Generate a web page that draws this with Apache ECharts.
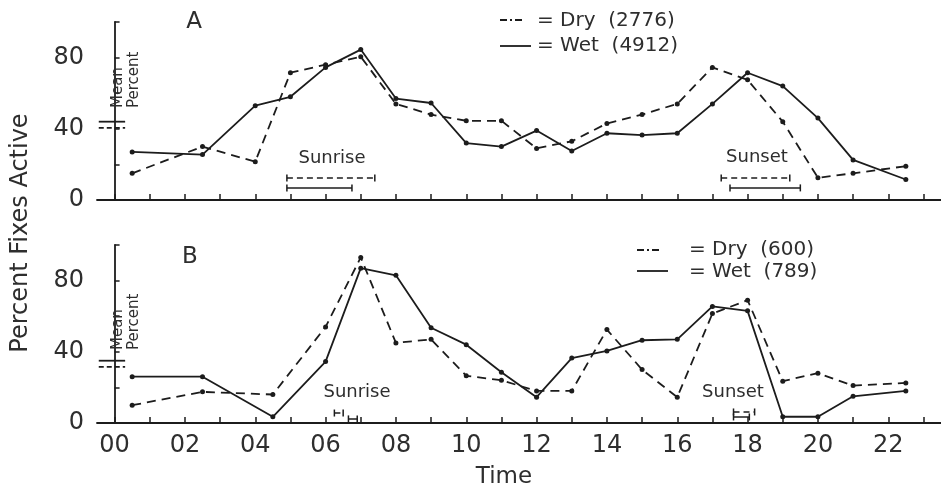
<!DOCTYPE html>
<html><head><meta charset="utf-8">
<script src="https://cdn.jsdelivr.net/npm/echarts@6/dist/echarts.min.js"></script>
<style>html,body{margin:0;padding:0;background:#fff}#c{width:941px;height:489px}</style>
</head><body><div id="c"></div>
<script>
// ---- data ----
const hoursA = [0.5, 2.5, 4, 5, 6, 7, 8, 9, 10, 11, 12, 13, 14, 15, 16, 17, 18, 19, 20, 21, 22.5];
const dryA   = [15, 30, 21.5, 71.5, 76, 80.5, 54, 48, 44.5, 44.5, 29, 33, 43, 48, 54, 74.5, 67.5, 44, 12.5, 15, 19];
const wetA   = [27, 25.5, 53, 58, 74.5, 84.5, 57, 54.5, 32, 30, 39, 27.5, 37.5, 36.5, 37.5, 54, 71.5, 64, 46, 22.5, 11.5];
const hoursB = [0.5, 2.5, 4.5, 6, 7, 8, 9, 10, 11, 12, 13, 14, 15, 16, 17, 18, 19, 20, 21, 22.5];
const dryB   = [10, 17.5, 16, 54, 93, 45, 47, 26.5, 24, 18, 18, 52.5, 30, 14.5, 61.5, 69, 23.5, 28, 21, 22.5];
const wetB   = [26, 26, 3.5, 34.5, 87, 83, 53.5, 44, 28.5, 14.5, 36.5, 40.5, 46.5, 47, 65.5, 63, 3.5, 3.5, 15, 18];
const meanA  = {dry: 40.5, wet: 44};
const meanB  = {dry: 31.5, wet: 35};
const sunriseA = {dry: [4.9, 7.4], wet: [4.9, 6.75]};
const sunsetA  = {dry: [17.25, 19.2], wet: [17.5, 19.5]};
const sunriseB = {dry: [6.25, 6.5], wet: [6.65, 6.9]};
const sunsetB  = {dry: [17.6, 18.2], wet: [17.6, 18.05]};
const countsA = {dry: 2776, wet: 4912};
const countsB = {dry: 600, wet: 789};
const hourTicks = Array.from({length: 24}, (_, i) => i);
const hourLabels = [0, 2, 4, 6, 8, 10, 12, 14, 16, 18, 20, 22];
const yTickLabels = [0, 40, 80];

// ---- styles ----
const INK = '#1c1c1c', TXT = '#2e2e2e', FONT = 'DejaVu Sans';
const DASH = [9, 6];

function dataLine(g, xs, ys, dashed) {
  return {type: 'line', xAxisIndex: g, yAxisIndex: g, data: xs.map((x, i) => [x, ys[i]]),
    symbol: 'circle', symbolSize: 5, showAllSymbol: true, z: 3,
    lineStyle: {color: INK, width: 1.8, type: dashed ? DASH : 'solid'}, itemStyle: {color: INK}};
}
function meanLine(g, v, dashed) {
  return {type: 'line', xAxisIndex: g, yAxisIndex: g, data: [[-0.45, v], [0.3, v]], symbol: 'none',
    lineStyle: {color: INK, width: 1.8, type: dashed ? [5, 3] : 'solid'}};
}
function sunBar(g, iv, level, dashed) {
  return {type: 'line', xAxisIndex: g, yAxisIndex: g, data: [[iv[0], level], [iv[1], level]],
    symbol: 'rect', symbolSize: [1.5, 7], itemStyle: {color: INK},
    lineStyle: {color: INK, width: 1.5, type: dashed ? [6, 4] : 'solid'}};
}
function xAx(g, labels) {
  return {type: 'value', gridIndex: g, min: -0.5, max: 23.5,
    axisLine: {lineStyle: {color: INK, width: 1.8}},
    axisTick: {show: true, inside: true, length: 6, customValues: hourTicks, lineStyle: {color: INK, width: 1.5}},
    axisLabel: labels ? {show: true, customValues: hourLabels, margin: 11, color: TXT, fontFamily: FONT, fontSize: 24,
      formatter: v => String(v).padStart(2, '0')} : {show: false},
    splitLine: {show: false}};
}
function yAx(g) {
  return {type: 'value', gridIndex: g, min: 0, max: 100, interval: 20,
    axisLine: {show: true, lineStyle: {color: INK, width: 1.8}},
    axisTick: {show: true, inside: true, length: 5, lineStyle: {color: INK, width: 1.5}},
    axisLabel: {color: TXT, fontFamily: FONT, fontSize: 24, margin: 13,
      formatter: v => yTickLabels.includes(v) ? String(v) : ''},
    splitLine: {show: false}};
}
function txt(x, y, s, size, opts) {
  return Object.assign({type: 'text', x, y, z: 10,
    style: Object.assign({text: s, font: size + 'px "' + FONT + '"', fill: TXT, textAlign: 'center', textVerticalAlign: 'middle'}, (opts && opts.style) || {})},
    (opts && opts.el) || {});
}
function legendRow(x, y, dashed) {
  if (dashed) {
    return {type: 'line', shape: {x1: x, y1: y, x2: x + 24, y2: y}, style: {stroke: INK, lineWidth: 1.8, lineDash: [7, 3, 2, 3]}};
  }
  return {type: 'line', shape: {x1: x, y1: y, x2: x + 31, y2: y}, style: {stroke: INK, lineWidth: 1.8}};
}

const chart = echarts.init(document.getElementById('c'), null, {renderer: 'canvas'});
const graphic = [
  txt(21, 233, 'Percent Fixes Active', 24, {el: {rotation: Math.PI / 2}}),
  txt(504, 477, 'Time', 23),
  txt(194, 22, 'A', 23),
  txt(190, 257, 'B', 23),
  txt(126, 108, 'Mean\nPercent', 15, {el: {rotation: Math.PI / 2}, style: {textAlign: 'left', lineHeight: 16}}),
  txt(126, 350, 'Mean\nPercent', 15, {el: {rotation: Math.PI / 2}, style: {textAlign: 'left', lineHeight: 16}}),
  txt(332, 158, 'Sunrise', 18),
  txt(757, 157, 'Sunset', 18),
  txt(357, 392, 'Sunrise', 18),
  txt(733, 392, 'Sunset', 18),
  legendRow(500, 20, true),
  legendRow(500, 46, false),
  txt(537, 21, '= Dry  (' + countsA.dry + ')', 20, {style: {textAlign: 'left'}}),
  txt(537, 46, '= Wet  (' + countsA.wet + ')', 20, {style: {textAlign: 'left'}}),
  legendRow(637, 250, true),
  legendRow(637, 271, false),
  txt(689, 250, '= Dry  (' + countsB.dry + ')', 20, {style: {textAlign: 'left'}}),
  txt(689, 272, '= Wet  (' + countsB.wet + ')', 20, {style: {textAlign: 'left'}})
];

chart.setOption({
  animation: false,
  backgroundColor: '#fff',
  grid: [
    {left: 97, top: 22, width: 845, height: 178},
    {left: 97, top: 245, width: 845, height: 178}
  ],
  xAxis: [xAx(0, false), xAx(1, true)],
  yAxis: [yAx(0), yAx(1)],
  series: [
    dataLine(0, hoursA, dryA, true),
    dataLine(0, hoursA, wetA, false),
    dataLine(1, hoursB, dryB, true),
    dataLine(1, hoursB, wetB, false),
    meanLine(0, meanA.wet, false), meanLine(0, meanA.dry, true),
    meanLine(1, meanB.wet, false), meanLine(1, meanB.dry, true),
    sunBar(0, sunriseA.dry, 12.4, true), sunBar(0, sunriseA.wet, 6.8, false),
    sunBar(0, sunsetA.dry, 12.4, true), sunBar(0, sunsetA.wet, 6.8, false),
    sunBar(1, sunriseB.dry, 5.6, true), sunBar(1, sunriseB.wet, 2.3, false),
    sunBar(1, sunsetB.dry, 6.2, true), sunBar(1, sunsetB.wet, 3.4, false)
  ],
  graphic: graphic
});
</script></body></html>
